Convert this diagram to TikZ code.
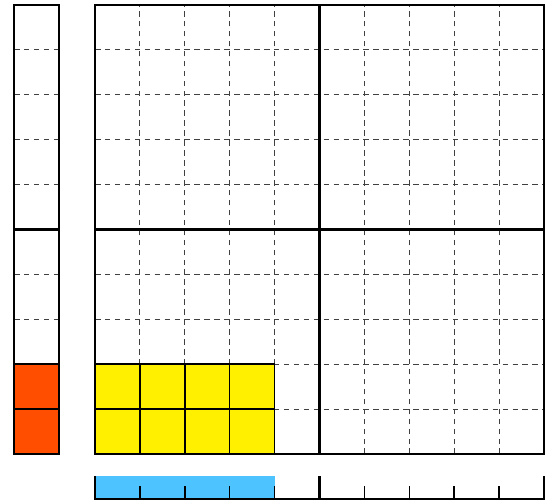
\documentclass[tikz,border=0pt]{standalone}
\definecolor{cellorange}{HTML}{FF4E00}
\definecolor{cellyellow}{HTML}{FFF000}
\definecolor{barblue}{HTML}{4DC3FF}
\tikzset{
  gridline/.style={black!75, line width=0.6pt, dash pattern=on 3.5pt off 2.8pt},
  cellline/.style={black, line width=0.9pt},
  axisline/.style={black, line width=1.9pt},
  frameline/.style={black, line width=1.2pt}
}
\begin{document}
\begin{tikzpicture}[x=1cm, y=1cm]
  \useasboundingbox (-2.116,-1.047) rectangle (10.134,10.111);
  \def\colx{-1.804}
  \def\colw{1.0}

  % Left column: 2 of 10
  \fill[cellorange] (\colx,0) rectangle +(\colw,2);
  \foreach \y in {1,2,3,4,6,7,8,9} {
    \draw[gridline] (\colx,\y) -- +(\colw,0);
  }
  \draw[cellline] (\colx,1) -- +(\colw,0);
  \draw[cellline] (\colx,2) -- +(\colw,0);
  \draw[axisline] (\colx,5) -- +(\colw,0);
  \draw[frameline] (\colx,0) rectangle +(\colw,10);

  % Main grid: 4 x 2 of 10 x 10
  \fill[cellyellow] (0,0) rectangle (4,2);
  \foreach \i in {1,2,3,4,6,7,8,9} {
    \draw[gridline] (\i,0) -- (\i,10);
    \draw[gridline] (0,\i) -- (10,\i);
  }
  \foreach \i in {1,2,3} {
    \draw[cellline] (\i,0) -- (\i,2);
  }
  \draw[cellline] (0,1) -- (4,1);
  \draw[cellline] (0,2) -- (4,2) -- (4,0);
  \draw[axisline] (5,0) -- (5,10);
  \draw[axisline] (0,5) -- (10,5);
  \draw[frameline] (0,0) rectangle (10,10);

  % Bottom strip: 4 of 10
  \fill[barblue] (0,-1.0) rectangle (4,-0.49);
  \draw[frameline] (0,-0.49) -- (0,-1.0) -- (10,-1.0) -- (10,-0.49);
  \foreach \x in {1,2,3,4,6,7,8,9} {
    \draw[cellline] (\x,-1.0) -- (\x,-0.72);
  }
  \draw[axisline] (5,-1.0) -- (5,-0.49);
\end{tikzpicture}
\end{document}
